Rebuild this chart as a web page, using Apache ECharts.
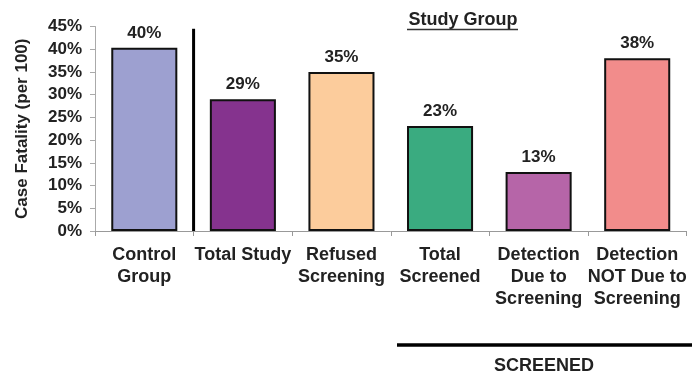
<!DOCTYPE html>
<html><head><meta charset="utf-8">
<script src="https://cdn.jsdelivr.net/npm/echarts@6/dist/echarts.min.js"></script>
<style>html,body{margin:0;padding:0;background:#fff}#c{width:699px;height:374px}</style>
</head><body><div id="c"></div>
<script>
var categories = ['Control\nGroup', 'Total Study', 'Refused\nScreening', 'Total\nScreened', 'Detection\nDue to\nScreening', 'Detection\nNOT Due to\nScreening'];
var values = [40.3, 29.0, 35.0, 23.1, 13.0, 38.0];
var barColors = ['#9da0d0', '#85338e', '#fccc9c', '#3aab80', '#b665a8', '#f28c8b'];
var yTicks = [0, 5, 10, 15, 20, 25, 30, 35, 40, 45];

var FONT = '"Liberation Sans", Arial, Helvetica, sans-serif';
var chart = echarts.init(document.getElementById('c'), null, {renderer: 'canvas'});
var option = {
  animation: false,
  backgroundColor: '#fff',
  grid: {left: 95, right: 12.5, top: 26.5, bottom: 143, containLabel: false},
  xAxis: {
    type: 'category',
    data: categories,
    axisLine: {lineStyle: {color: '#999', width: 1}},
    axisTick: {show: true, length: 5, lineStyle: {color: '#999'}},
    axisLabel: {color: '#222', fontFamily: FONT, fontWeight: 'bold', fontSize: 18, lineHeight: 22, margin: 13, interval: 0}
  },
  yAxis: {
    type: 'value',
    min: yTicks[0], max: yTicks[yTicks.length - 1], interval: 5,
    name: 'Case Fatality (per 100)',
    nameLocation: 'middle',
    nameGap: 64,
    nameTextStyle: {color: '#222', fontFamily: FONT, fontWeight: 'bold', fontSize: 17},
    axisLine: {show: true, lineStyle: {color: '#aaa', width: 1}},
    axisTick: {show: true, length: 5, lineStyle: {color: '#aaa'}},
    splitLine: {show: false},
    axisLabel: {color: '#222', fontFamily: FONT, fontWeight: 'bold', fontSize: 17, margin: 13,
      formatter: function (v) { return v + '%'; }}
  },
  series: [{
    type: 'bar',
    barWidth: '67%',
    data: values.map(function (v, i) {
      return {value: v, itemStyle: {color: barColors[i], borderColor: '#111', borderWidth: 2}};
    }),
    label: {show: true, position: 'top', distance: 6, color: '#222', fontFamily: FONT, fontWeight: 'bold', fontSize: 17,
      formatter: function (p) { return Math.round(p.value) + '%'; }}
  }]
};
chart.setOption(option);

var p0 = chart.convertToPixel({xAxisIndex: 0}, categories[0]);
var p1 = chart.convertToPixel({xAxisIndex: 0}, categories[1]);
var yTop = chart.convertToPixel({yAxisIndex: 0}, 44.5);
var y0 = chart.convertToPixel({yAxisIndex: 0}, 0);
var sepX = (p0 + p1) / 2;

chart.setOption({
  graphic: [
    {type: 'line', shape: {x1: sepX, y1: yTop, x2: sepX, y2: y0}, style: {stroke: '#000', lineWidth: 3}},
    {type: 'text', x: 463, y: 20, style: {text: 'Study Group', fill: '#222', font: 'bold 18px ' + FONT, textAlign: 'center', textVerticalAlign: 'middle'}},
    {type: 'line', shape: {x1: 407, y1: 29.5, x2: 518, y2: 29.5}, style: {stroke: '#333', lineWidth: 1.5}},
    {type: 'line', shape: {x1: 397, y1: 345, x2: 692, y2: 345}, style: {stroke: '#000', lineWidth: 3.5}},
    {type: 'text', x: 544, y: 366, style: {text: 'SCREENED', fill: '#222', font: 'bold 18px ' + FONT, textAlign: 'center', textVerticalAlign: 'middle'}}
  ]
});
</script></body></html>
